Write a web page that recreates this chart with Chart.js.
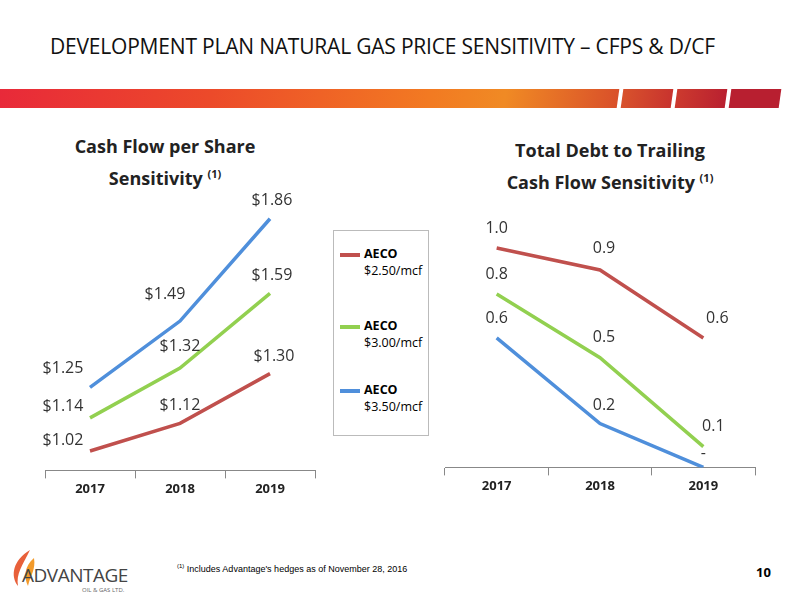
<!DOCTYPE html>
<html><head><meta charset="utf-8">
<script src="https://cdn.jsdelivr.net/npm/chart.js@4/dist/chart.umd.min.js"></script>
<style>
body{margin:0;width:800px;height:600px;position:relative;background:#fff;font-family:"Open Sans",sans-serif;overflow:hidden}
.abs{position:absolute}
#title{left:50px;top:32px;font-size:21px;color:#111;letter-spacing:-0.2px}
.seg{position:absolute;top:89px;height:19px;transform:skewX(-8deg)}
.ct{font-weight:bold;font-size:18px;text-align:center;color:#222;line-height:28px}
sup{font-size:11px}
#legend{left:333px;top:230px;width:94px;height:204px;border:1px solid #bbb;font-size:12.5px}
.li{position:absolute;left:6px}
.sw{display:inline-block;width:20px;height:4px;vertical-align:middle;margin-right:4px}
</style></head><body>
<div id="title" class="abs">DEVELOPMENT PLAN NATURAL GAS PRICE SENSITIVITY – CFPS &amp; D/CF</div>
<div class="seg" style="left:-10px;width:628px;background:linear-gradient(90deg,#e8283a,#ec4a2a 35%,#f27a22 70%,#f08a24 82%,#d9502a)"></div>
<div class="seg" style="left:622px;width:50px;background:linear-gradient(90deg,#d8522c,#c8332e)"></div>
<div class="seg" style="left:676px;width:50px;background:linear-gradient(90deg,#cc3a2e,#b92030)"></div>
<div class="seg" style="left:730px;width:50px;background:#b81f30"></div>
<div class="abs ct" style="left:30px;top:132px;width:270px">Cash Flow per Share<br>Sensitivity <sup>(1)</sup></div>
<div class="abs ct" style="left:460px;top:136px;width:300px">Total Debt to Trailing<br>Cash Flow Sensitivity <sup>(1)</sup></div>
<div id="legend" class="abs">
 <div class="li" style="top:14px"><span class="sw" style="background:#c0504d"></span><b>AECO</b><br><span style="margin-left:24px">$2.50/mcf</span></div>
 <div class="li" style="top:86px"><span class="sw" style="background:#92d050"></span><b>AECO</b><br><span style="margin-left:24px">$3.00/mcf</span></div>
 <div class="li" style="top:150px"><span class="sw" style="background:#4f8fdb"></span><b>AECO</b><br><span style="margin-left:24px">$3.50/mcf</span></div>
</div>
<canvas id="c1" class="abs" style="left:40px;top:180px" width="280" height="320"></canvas>
<canvas id="c2" class="abs" style="left:440px;top:180px" width="320" height="320"></canvas>
<div class="abs" style="left:4px;top:548px;width:140px;height:50px">
 <svg width="30" height="40" style="position:absolute;left:4px;top:0"><path d="M22 2 C5 12 2 28 10 38 C8 26 14 18 22 2Z" fill="#e8603a"/><path d="M26 10 C16 18 16 30 20 38 C22 28 28 22 26 10Z" fill="#f39a2a"/></svg>
 <div style="position:absolute;left:18px;top:14px;font-size:19px;color:#444;letter-spacing:-0.5px">ADVANTAGE</div>
 <div style="position:absolute;left:78px;top:38px;font-size:6px;color:#666">OIL &amp; GAS LTD.</div>
</div>
<div class="abs" style="left:177px;top:563px;font-size:9px;font-family:'Liberation Sans Narrow',sans-serif"><sup style="font-size:6px">(1)</sup> Includes Advantage's hedges as of November 28, 2016</div>
<div class="abs" style="left:756px;top:563px;font-size:13px;font-weight:bold">10</div>
<script>
var years = ["2017", "2018", "2019"];
var cfps250 = [1.02, 1.12, 1.30];
var cfps300 = [1.14, 1.32, 1.59];
var cfps350 = [1.25, 1.49, 1.86];
var dcf250 = [1.0, 0.9, 0.59];
var dcf300 = [0.79, 0.5, 0.095];
var dcf350 = [0.59, 0.2, 0];
var dcfLabels250 = ["1.0", "0.9", "0.6"];
var dcfLabels300 = ["0.8", "0.5", "0.1"];
var dcfLabels350 = ["0.6", "0.2", "-"];

var red = '#c0504d', green = '#92d050', blue = '#4f8fdb';

// draws value labels next to each point, offsets given per dataset
var labelPlugin = {
  id: 'vals',
  afterDatasetsDraw: function(chart) {
    var ctx = chart.ctx;
    ctx.save();
    ctx.font = '16px "Open Sans"';
    ctx.fillStyle = '#333';
    ctx.textAlign = 'center';
    ctx.textBaseline = 'middle';
    chart.data.datasets.forEach(function(ds, di) {
      chart.getDatasetMeta(di).data.forEach(function(pt, i) {
        var off = ds.offs[i];
        ctx.fillText(ds.texts[i], pt.x + off[0], pt.y + off[1]);
      });
    });
    ctx.restore();
  }
};

function makeChart(id, sets, min, max, pad) {
  return new Chart(document.getElementById(id), {
    type: 'line',
    data: { labels: years, datasets: sets },
    plugins: [labelPlugin],
    options: {
      responsive: false,
      animation: false,
      layout: { padding: pad },
      plugins: { legend: { display: false }, tooltip: { enabled: false } },
      elements: { point: { radius: 0 }, line: { borderWidth: 3.5, tension: 0 } },
      scales: {
        x: {
          offset: true,
          border: { color: '#888' },
          grid: { offset: true, drawOnChartArea: false, tickLength: 8, color: '#888' },
          ticks: { color: '#222', font: { size: 13, weight: 'bold', family: '"Open Sans"' } }
        },
        y: { display: false, min: min, max: max }
      }
    }
  });
}

makeChart('c1', [
  { data: cfps250, borderColor: red, texts: cfps250.map(function(v){return '$'+v.toFixed(2);}), offs: [[-27,-11],[0,-18],[4,-17]] },
  { data: cfps300, borderColor: green, texts: cfps300.map(function(v){return '$'+v.toFixed(2);}), offs: [[-27,-11],[0,-22],[2,-18]] },
  { data: cfps350, borderColor: blue, texts: cfps350.map(function(v){return '$'+v.toFixed(2);}), offs: [[-27,-19],[-15,-27],[2,-18]] }
], 0.95, 2.0, { left: 5, right: 5, top: 0, bottom: 0 });

makeChart('c2', [
  { data: dcf250, borderColor: red, texts: dcfLabels250, offs: [[0,-20],[4,-22],[14,-20]] },
  { data: dcf300, borderColor: green, texts: dcfLabels300, offs: [[0,-20],[4,-20],[10,-20]] },
  { data: dcf350, borderColor: blue, texts: dcfLabels350, offs: [[0,-20],[4,-18],[0,-14]] }
], 0, 1.31, { left: 5, right: 5, top: 0, bottom: 3 });
</script>
</body></html>
